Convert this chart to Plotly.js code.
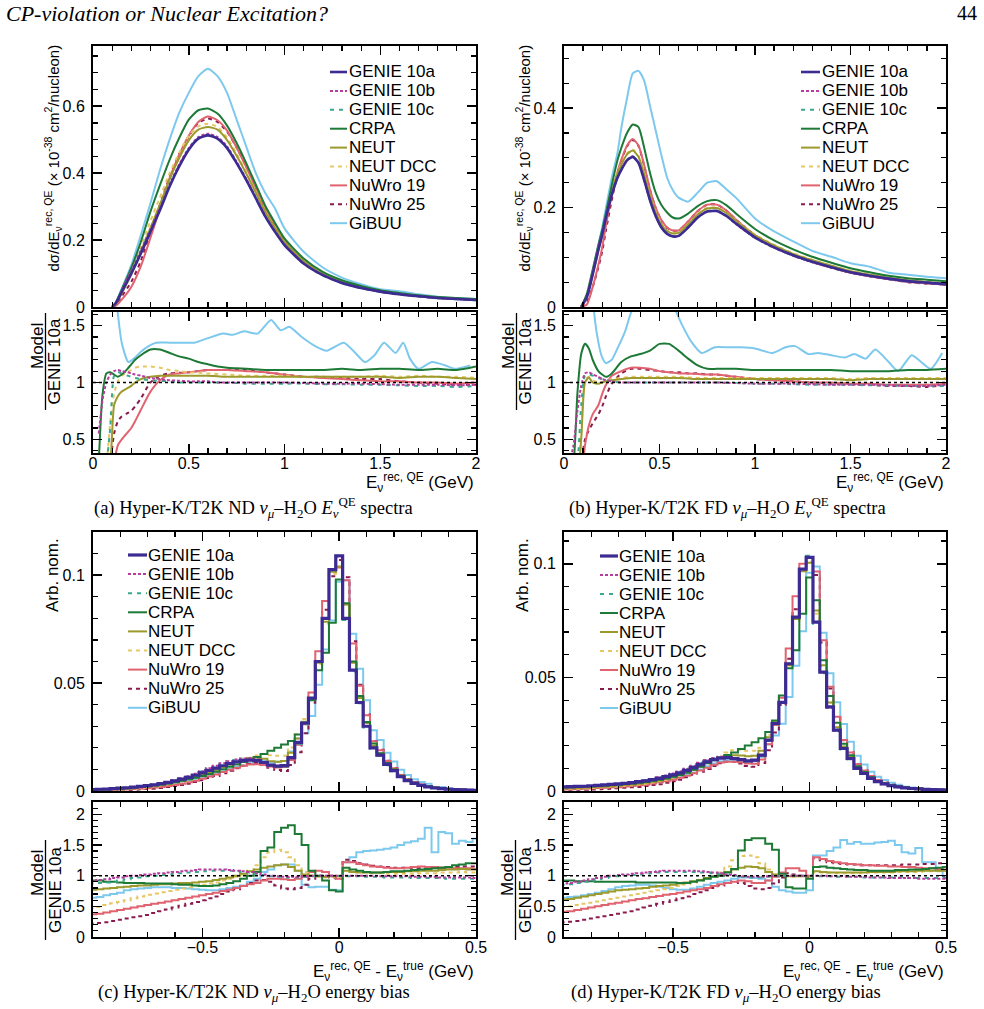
<!DOCTYPE html>
<html><head><meta charset="utf-8">
<script src="https://cdn.plot.ly/plotly-3.0.1.min.js"></script>
<style>html,body{margin:0;padding:0;background:#fff}#plot{width:984px;height:1009px}</style>
</head><body><div id="plot"></div>
<script>
// ---------------- DATA ----------------
const modelNames = ['GENIE 10a','GENIE 10b','GENIE 10c','CRPA','NEUT','NEUT DCC','NuWro 19','NuWro 25','GiBUU'];

// (a) ND spectra, main panel
const aX = [0.10,0.12,0.15,0.20,0.25,0.30,0.35,0.40,0.45,0.50,0.55,0.60,0.65,0.70,0.75,0.80,0.85,0.90,0.95,1.00,1.10,1.20,1.30,1.40,1.50,1.60,1.70,1.80,1.90,2.00];
const aG10a = [0,0.012,0.045,0.10,0.16,0.225,0.29,0.36,0.42,0.47,0.503,0.513,0.503,0.475,0.43,0.38,0.325,0.27,0.225,0.185,0.13,0.095,0.072,0.057,0.046,0.038,0.032,0.027,0.024,0.021];
const aG10b = [0,0.013,0.05,0.108,0.17,0.234,0.298,0.367,0.426,0.475,0.508,0.518,0.508,0.48,0.434,0.383,0.328,0.272,0.227,0.186,0.13,0.095,0.072,0.057,0.046,0.038,0.032,0.027,0.024,0.021];
const aG10c = [0,0.013,0.049,0.105,0.166,0.23,0.294,0.364,0.424,0.472,0.505,0.515,0.505,0.477,0.432,0.381,0.326,0.27,0.225,0.185,0.129,0.094,0.071,0.056,0.045,0.037,0.031,0.026,0.023,0.020];
const aCRPA = [0,0.014,0.052,0.117,0.195,0.285,0.365,0.44,0.505,0.56,0.588,0.593,0.578,0.542,0.49,0.43,0.366,0.302,0.252,0.205,0.145,0.105,0.08,0.063,0.05,0.042,0.035,0.030,0.027,0.024];
const aNEUT = [0,0.01,0.041,0.097,0.165,0.236,0.307,0.382,0.445,0.498,0.53,0.538,0.53,0.499,0.452,0.399,0.342,0.284,0.236,0.194,0.137,0.1,0.076,0.06,0.048,0.04,0.034,0.028,0.025,0.022];
const aNDCC = [0,0.012,0.048,0.111,0.182,0.257,0.328,0.4,0.461,0.512,0.54,0.548,0.538,0.506,0.458,0.403,0.345,0.286,0.238,0.196,0.137,0.1,0.076,0.06,0.049,0.04,0.034,0.028,0.025,0.022];
const aNW19 = [0,0.004,0.022,0.06,0.122,0.207,0.296,0.385,0.455,0.512,0.553,0.569,0.558,0.527,0.476,0.418,0.356,0.294,0.243,0.198,0.137,0.099,0.074,0.058,0.046,0.038,0.032,0.027,0.024,0.021];
const aNW25 = [0,0.007,0.032,0.075,0.138,0.225,0.307,0.389,0.457,0.51,0.55,0.563,0.553,0.524,0.477,0.422,0.359,0.294,0.243,0.198,0.137,0.1,0.075,0.059,0.047,0.038,0.032,0.027,0.024,0.021];
const aGiBUU = [0,0.014,0.055,0.125,0.215,0.31,0.41,0.50,0.58,0.64,0.69,0.712,0.69,0.64,0.56,0.48,0.40,0.34,0.295,0.235,0.165,0.118,0.088,0.068,0.053,0.047,0.038,0.031,0.026,0.024];

// ratio grid shared by (a) and (b)
const rX = [0.03,0.05,0.07,0.09,0.11,0.13,0.15,0.18,0.20,0.22,0.25,0.30,0.35,0.40,0.45,0.50,0.55,0.60,0.65,0.70,0.75,0.80,0.90,1.0,1.1,1.2,1.3,1.4,1.5,1.6,1.7,1.8,1.9,2.0];
const arG10b = [0.55,0.85,1.0,1.07,1.1,1.11,1.1,1.09,1.08,1.07,1.06,1.04,1.03,1.02,1.015,1.01,1.01,1.01,1.0,1.0,1.0,1.0,1.0,1.0,0.995,0.99,0.99,0.99,0.985,0.98,0.98,0.98,0.975,0.98];
const arG10c = [0.2,0.2,0.3,0.6,1.06,1.09,1.08,1.06,1.05,1.04,1.03,1.02,1.015,1.01,1.0,1.0,1.0,1.0,1.0,0.995,0.995,0.99,0.99,0.99,0.99,0.985,0.985,0.98,0.98,0.975,0.97,0.97,0.96,0.97];
const arCRPA = [0.3,0.9,1.08,1.09,1.07,1.05,1.07,1.12,1.16,1.2,1.24,1.29,1.29,1.26,1.23,1.21,1.18,1.16,1.14,1.13,1.125,1.12,1.11,1.11,1.11,1.11,1.12,1.11,1.12,1.12,1.11,1.12,1.11,1.14];
const arNEUT = [0.2,0.2,0.2,0.3,0.8,0.88,0.92,0.95,0.97,1.0,1.03,1.05,1.06,1.06,1.06,1.06,1.06,1.06,1.055,1.05,1.05,1.05,1.05,1.05,1.05,1.05,1.05,1.05,1.05,1.04,1.05,1.05,1.04,1.03];
const arNDCC = [0.2,0.2,0.3,0.65,0.9,1.01,1.06,1.09,1.11,1.13,1.14,1.14,1.13,1.11,1.10,1.09,1.085,1.08,1.075,1.07,1.065,1.06,1.06,1.06,1.05,1.05,1.05,1.05,1.06,1.05,1.06,1.05,1.05,1.04];
const arNW19 = [0.2,0.2,0.2,0.2,0.3,0.45,0.5,0.56,0.6,0.66,0.76,0.92,1.02,1.07,1.08,1.09,1.10,1.11,1.11,1.11,1.105,1.10,1.09,1.07,1.05,1.04,1.03,1.02,1.01,1.01,1.0,1.0,0.99,1.0];
const arNW25 = [0.2,0.2,0.2,0.3,0.55,0.66,0.7,0.73,0.75,0.79,0.86,1.0,1.06,1.08,1.085,1.09,1.10,1.11,1.11,1.11,1.11,1.11,1.09,1.07,1.05,1.05,1.04,1.03,1.03,1.01,1.0,0.99,0.98,0.98];
const arGiBUUx = [0.11,0.13,0.15,0.185,0.22,0.25,0.29,0.33,0.4,0.47,0.53,0.6,0.68,0.73,0.79,0.86,0.93,0.98,1.025,1.09,1.16,1.22,1.31,1.37,1.42,1.47,1.52,1.58,1.62,1.655,1.70,1.77,1.84,1.89,1.97];
const arGiBUU = [1.9,1.6,1.35,1.18,1.22,1.27,1.32,1.35,1.35,1.35,1.35,1.39,1.43,1.42,1.45,1.43,1.55,1.46,1.49,1.40,1.32,1.28,1.35,1.26,1.18,1.24,1.35,1.26,1.35,1.21,1.12,1.18,1.15,1.12,1.15];

// (b) FD spectra, main panel
const bX = [0.09,0.12,0.15,0.18,0.20,0.22,0.25,0.28,0.30,0.33,0.36,0.39,0.42,0.45,0.48,0.51,0.54,0.57,0.60,0.65,0.70,0.75,0.80,0.85,0.90,1.0,1.1,1.2,1.3,1.4,1.5,1.6,1.7,1.8,1.9,2.0];
const bG10a = [0,.02,.065,.115,.145,.18,.225,.26,.276,.295,.302,.29,.255,.215,.183,.16,.147,.142,.143,.16,.18,.192,.193,.183,.168,.14,.12,.104,.091,.08,.07,.063,.057,.052,.049,.046];
const bG10b = [0,.022,.07,.121,.149,.184,.227,.261,.277,.296,.303,.29,.255,.215,.183,.16,.147,.142,.143,.16,.18,.192,.193,.183,.167,.139,.119,.103,.09,.079,.069,.062,.056,.051,.048,.045];
const bG10c = [0,.021,.069,.119,.148,.183,.226,.26,.277,.296,.303,.291,.256,.216,.184,.161,.148,.143,.144,.161,.181,.193,.194,.184,.168,.139,.119,.103,.09,.079,.069,.062,.056,.051,.048,.045];
const bCRPA = [0,.027,.075,.125,.155,.19,.245,.295,.32,.35,.367,.362,.32,.27,.23,.205,.19,.18,.178,.188,.203,.213,.215,.205,.188,.157,.134,.116,.101,.089,.078,.070,.063,.058,.055,.052];
const bNEUT = [0,.021,.066,.114,.145,.182,.23,.268,.286,.307,.315,.302,.266,.224,.19,.166,.153,.148,.149,.166,.186,.198,.199,.189,.173,.144,.124,.107,.094,.083,.072,.065,.059,.054,.050,.047];
const bNDCC = [0,.021,.066,.115,.145,.182,.231,.27,.288,.309,.317,.304,.268,.226,.192,.168,.154,.149,.15,.167,.187,.2,.2,.19,.174,.146,.125,.108,.095,.083,.073,.066,.059,.054,.051,.048];
const bNW19 = [0,.005,.04,.085,.12,.165,.225,.272,.296,.325,.338,.325,.285,.237,.2,.175,.16,.154,.154,.172,.193,.206,.206,.194,.176,.144,.122,.105,.091,.08,.069,.062,.056,.051,.048,.045];
const bNW25 = [0,.01,.04,.08,.112,.155,.215,.268,.294,.323,.336,.324,.284,.236,.199,.174,.159,.154,.154,.172,.193,.206,.206,.194,.176,.144,.122,.105,.091,.079,.069,.062,.056,.05,.047,.045];
const bGiBUU = [0,.02,.07,.125,.16,.2,.26,.31,.36,.42,.47,.475,.455,.405,.355,.305,.26,.235,.22,.212,.23,.25,.253,.237,.22,.178,.152,.132,.113,.101,.088,.081,.069,.065,.061,.058];

const brG10b = [.3,.45,.75,.97,1.08,1.09,1.07,1.05,1.03,1.02,1.01,1.0,1.0,1.0,1.0,1.0,1.0,1.0,1.0,1.0,1.0,1.0,.995,.99,.99,.99,.985,.98,.98,.98,.975,.97,.97,.98];
const brG10c = [.2,.2,.3,.8,1.06,1.07,1.06,1.04,1.03,1.02,1.01,1.0,1.0,1.0,1.0,1.0,1.0,1.0,1.0,1.0,1.0,1.0,.995,.99,.99,.985,.98,.98,.98,.975,.975,.97,.97,.97];
const brCRPA = [.2,.3,.9,1.25,1.34,1.3,1.2,1.1,1.07,1.05,1.08,1.18,1.23,1.25,1.28,1.34,1.34,1.28,1.21,1.15,1.12,1.12,1.12,1.11,1.11,1.11,1.11,1.11,1.10,1.10,1.10,1.11,1.11,1.12];
const brNEUT = [.2,.2,.2,.5,1.0,1.045,1.0,.99,1.0,1.01,1.02,1.03,1.04,1.04,1.04,1.04,1.04,1.04,1.035,1.03,1.03,1.03,1.03,1.03,1.03,1.03,1.03,1.03,1.02,1.03,1.03,1.03,1.03,1.03];
const brNDCC = [.2,.2,.2,.55,1.02,1.05,1.02,1.0,1.0,1.01,1.03,1.04,1.05,1.05,1.05,1.05,1.05,1.05,1.045,1.04,1.04,1.04,1.04,1.04,1.04,1.04,1.04,1.04,1.03,1.04,1.04,1.04,1.04,1.04];
const brNW19 = [.2,.2,.2,.2,.45,.62,.72,.8,.9,.98,1.06,1.1,1.13,1.13,1.12,1.10,1.09,1.08,1.08,1.075,1.07,1.07,1.05,1.03,1.02,1.01,1.0,1.0,.99,.99,.98,.98,.98,.99];
const brNW25 = [.2,.2,.2,.3,.5,.58,.64,.72,.79,.88,.99,1.08,1.12,1.12,1.11,1.10,1.09,1.09,1.08,1.08,1.07,1.07,1.05,1.03,1.02,1.01,1.0,.99,.99,.98,.97,.97,.96,.98];
const brGiBUUx = [0.14,0.17,0.2,0.22,0.25,0.28,0.32,0.36,0.45,0.55,0.58,0.62,0.67,0.72,0.79,0.86,0.93,1.0,1.09,1.16,1.21,1.28,1.33,1.4,1.47,1.52,1.58,1.63,1.7,1.75,1.82,1.87,1.92,1.98];
const brGiBUU = [1.9,1.45,1.22,1.17,1.2,1.3,1.45,1.65,1.8,1.75,1.65,1.5,1.35,1.26,1.31,1.31,1.31,1.30,1.26,1.31,1.32,1.25,1.26,1.24,1.22,1.25,1.21,1.29,1.18,1.10,1.24,1.18,1.12,1.26];

// (c)/(d) energy-bias histograms: 57 bins of 0.025 GeV centred on -0.9 ... 0.5
const binStart = -0.9125, binWidth = 0.025, nBins = 57;
const cG10a = [.0007,.0008,.0009,.0011,.0013,.0015,.0018,.0021,.0025,.0029,.0034,.0040,.0047,.0055,.0063,.0073,.0084,.0095,.0106,.0117,.0127,.0135,.0141,.0143,.0141,.0132,.0120,.0115,.0118,.0155,.0225,.0315,.0430,.0600,.0800,.1026,.1090,.0800,.0560,.0410,.0300,.0200,.0166,.0123,.0094,.0066,.0048,.0035,.0026,.0019,.0014,.0011,.0008,.0006,.0005,.0004,.0003];
const cG10b = [.0007,.0007,.0008,.0011,.0013,.0015,.0018,.0021,.0026,.0030,.0035,.0042,.0050,.0059,.0068,.0080,.0092,.0105,.0117,.0129,.0138,.0146,.0151,.0152,.0147,.0135,.0120,.0114,.0116,.0152,.0221,.0312,.0430,.0600,.0800,.1026,.1085,.0800,.0560,.0410,.0300,.0200,.0164,.0122,.0093,.0065,.0048,.0034,.0026,.0019,.0014,.0011,.0008,.0006,.0005,.0004,.0003];
const cG10c = [.0006,.0007,.0008,.0010,.0012,.0014,.0017,.0020,.0025,.0029,.0034,.0041,.0048,.0057,.0066,.0077,.0090,.0103,.0114,.0126,.0137,.0144,.0149,.0150,.0145,.0133,.0119,.0113,.0114,.0150,.0218,.0309,.0426,.0600,.0800,.1026,.1090,.0792,.0554,.0406,.0294,.0196,.0163,.0119,.0091,.0064,.0047,.0034,.0025,.0018,.0013,.0011,.0008,.0006,.0005,.0004,.0003];
const cCRPA = [.0006,.0007,.0008,.0010,.0012,.0013,.0016,.0018,.0022,.0025,.0030,.0035,.0040,.0047,.0054,.0061,.0070,.0079,.0089,.0101,.0112,.0123,.0134,.0145,.0158,.0172,.0186,.0200,.0215,.0232,.0262,.0310,.0420,.0560,.0640,.0780,.0980,.0870,.0600,.0440,.0320,.0220,.0175,.0130,.0100,.0071,.0052,.0038,.0028,.0021,.0016,.0012,.0009,.0007,.0006,.0005,.0004];
const cNEUT = [.0005,.0006,.0007,.0009,.0011,.0012,.0015,.0018,.0021,.0025,.0029,.0034,.0041,.0048,.0055,.0065,.0076,.0086,.0099,.0111,.0123,.0135,.0145,.0153,.0155,.0149,.0138,.0135,.0139,.0177,.0243,.0321,.0430,.0594,.0784,.1016,.1040,.0864,.0594,.0431,.0315,.0210,.0174,.0130,.0100,.0070,.0051,.0037,.0028,.0021,.0015,.0012,.0009,.0007,.0006,.0004,.0003];
const cNDCC = [.0003,.0004,.0005,.0006,.0007,.0009,.0011,.0014,.0017,.0021,.0025,.0030,.0036,.0043,.0051,.0061,.0071,.0083,.0094,.0108,.0121,.0132,.0144,.0154,.0165,.0172,.0166,.0163,.0163,.0202,.0263,.0334,.0430,.0588,.0776,.1005,.1040,.0864,.0599,.0435,.0315,.0208,.0173,.0127,.0097,.0068,.0049,.0036,.0027,.0020,.0015,.0012,.0008,.0006,.0005,.0004,.0003];
const cNW19 = [.0003,.0003,.0004,.0005,.0006,.0007,.0009,.0011,.0013,.0016,.0019,.0023,.0028,.0034,.0040,.0048,.0057,.0067,.0076,.0088,.0098,.0108,.0117,.0123,.0124,.0121,.0114,.0109,.0111,.0144,.0214,.0309,.0456,.0648,.0880,.1026,.1036,.0976,.0683,.0488,.0351,.0230,.0189,.0139,.0105,.0074,.0054,.0040,.0030,.0022,.0016,.0012,.0009,.0007,.0006,.0004,.0003];
const cNW25 = [.0002,.0002,.0002,.0003,.0004,.0005,.0006,.0007,.0009,.0011,.0014,.0018,.0023,.0028,.0034,.0042,.0050,.0060,.0070,.0082,.0094,.0105,.0117,.0126,.0130,.0123,.0108,.0097,.0093,.0121,.0180,.0268,.0409,.0600,.0840,.0995,.1070,.0990,.0694,.0492,.0354,.0232,.0191,.0140,.0106,.0075,.0054,.0039,.0029,.0021,.0016,.0012,.0009,.0007,.0006,.0005,.0003];
const cGiBUU = [.0004,.0005,.0006,.0008,.0009,.0011,.0014,.0017,.0020,.0023,.0028,.0032,.0038,.0044,.0050,.0057,.0065,.0072,.0081,.0091,.0102,.0111,.0118,.0129,.0134,.0140,.0132,.0135,.0139,.0183,.0243,.0268,.0348,.0492,.0656,.0790,.0970,.0976,.0728,.0566,.0420,.0282,.0236,.0177,.0137,.0099,.0074,.0055,.0042,.0034,.0019,.0019,.0014,.0009,.0008,.0006,.0005];

const crG10b = [.92,.93,.94,.96,.97,.99,1.0,1.01,1.02,1.03,1.04,1.05,1.06,1.07,1.08,1.09,1.10,1.10,1.10,1.10,1.09,1.08,1.07,1.06,1.04,1.02,1.0,.99,.98,.98,.98,.99,1.0,1.0,1.0,1.0,1.0,1.0,1.0,1.0,1.0,1.0,.99,.99,.99,.99,.99,.98,.98,.98,.98,.97,.97,.97,.97,.97,.96];
const crG10c = [.87,.88,.89,.90,.92,.94,.96,.97,.99,1.0,1.01,1.02,1.03,1.04,1.05,1.06,1.07,1.08,1.08,1.08,1.08,1.07,1.06,1.05,1.03,1.01,.99,.98,.97,.97,.97,.98,.99,1.0,1.0,1.0,1.0,.99,.99,.99,.98,.98,.98,.97,.97,.97,.97,.96,.96,.96,.96,.96,.95,.95,.95,.95,.95];
const crCRPA = [.92,.92,.90,.90,.89,.88,.88,.88,.87,.87,.87,.87,.86,.85,.85,.84,.83,.83,.84,.86,.88,.91,.95,1.0,1.06,1.40,1.46,1.71,1.78,1.82,1.68,1.50,1.08,1.0,.92,.76,.74,1.13,1.10,1.08,1.06,1.05,1.05,1.06,1.07,1.07,1.08,1.09,1.10,1.11,1.12,1.13,1.14,1.17,1.18,1.2,1.2];
const crNEUT = [.77,.78,.79,.80,.81,.82,.83,.84,.84,.85,.86,.86,.87,.88,.88,.89,.90,.91,.93,.95,.97,1.0,1.03,1.07,1.10,1.13,1.15,1.17,1.18,1.14,1.08,1.02,1.0,.99,.98,.99,.99,1.08,1.06,1.05,1.05,1.05,1.05,1.06,1.06,1.06,1.07,1.07,1.08,1.08,1.08,1.09,1.10,1.10,1.11,1.10,1.10];
const crNDCC = [.47,.49,.52,.55,.57,.60,.63,.66,.69,.71,.73,.75,.77,.79,.81,.83,.85,.87,.89,.92,.95,.98,1.02,1.08,1.17,1.30,1.38,1.42,1.38,1.30,1.17,1.06,1.0,.98,.97,.98,.98,1.08,1.07,1.06,1.05,1.04,1.04,1.03,1.03,1.03,1.03,1.03,1.04,1.04,1.04,1.05,1.05,1.05,1.06,1.05,1.05];
const crNW19 = [.37,.38,.40,.42,.44,.46,.48,.50,.52,.54,.56,.58,.60,.62,.64,.66,.68,.70,.72,.75,.77,.80,.83,.86,.88,.92,.95,.95,.94,.93,.95,.98,1.06,1.08,1.06,1.0,.95,1.22,1.22,1.19,1.17,1.15,1.14,1.13,1.12,1.12,1.13,1.14,1.15,1.14,1.14,1.13,1.13,1.12,1.12,1.12,1.11];
const crNW25 = [.22,.23,.24,.26,.28,.30,.32,.34,.36,.39,.42,.45,.48,.51,.54,.57,.60,.63,.66,.70,.74,.78,.83,.88,.92,.93,.90,.84,.79,.78,.80,.85,.95,1.0,1.0,.97,.95,1.26,1.24,1.20,1.18,1.16,1.15,1.14,1.13,1.13,1.13,1.12,1.12,1.12,1.13,1.13,1.14,1.14,1.15,1.15,1.15];
const crGiBUU = [.64,.65,.68,.70,.72,.76,.78,.79,.80,.81,.81,.81,.80,.80,.79,.78,.77,.76,.76,.78,.80,.82,.84,.90,.95,1.06,1.10,1.17,1.18,1.18,1.08,.85,.81,.82,.82,.77,.76,1.22,1.30,1.38,1.40,1.41,1.42,1.44,1.46,1.50,1.54,1.56,1.60,1.78,1.38,1.71,1.69,1.52,1.57,1.55,1.60];

const dG10a = [.0018,.0019,.0020,.0021,.0023,.0025,.0027,.0029,.0031,.0034,.0037,.0041,.0045,.0050,.0056,.0063,.0071,.0080,.0091,.0103,.0116,.0128,.0138,.0145,.0147,.0143,.0138,.0133,.0136,.0158,.0224,.0297,.0390,.0560,.0765,.0977,.1028,.0743,.0523,.0370,.0268,.0187,.0143,.0100,.0077,.0056,.0041,.0031,.0023,.0018,.0014,.0011,.0009,.0007,.0006,.0005,.0004];
const dG10b = [.0016,.0017,.0018,.0019,.0022,.0024,.0026,.0029,.0031,.0035,.0038,.0043,.0047,.0053,.0060,.0068,.0077,.0086,.0098,.0111,.0124,.0136,.0145,.0151,.0150,.0144,.0137,.0130,.0133,.0155,.0222,.0297,.0390,.0560,.0765,.0977,.1028,.0743,.0523,.0366,.0265,.0185,.0140,.0098,.0075,.0054,.0040,.0030,.0022,.0017,.0013,.0011,.0009,.0007,.0006,.0005,.0004];
const dG10c = [.0015,.0016,.0018,.0019,.0021,.0024,.0026,.0028,.0031,.0034,.0037,.0042,.0046,.0052,.0059,.0067,.0075,.0085,.0096,.0109,.0122,.0134,.0144,.0149,.0148,.0143,.0135,.0129,.0132,.0153,.0220,.0294,.0390,.0560,.0765,.0977,.1035,.0736,.0518,.0366,.0263,.0183,.0140,.0098,.0075,.0054,.0040,.0030,.0022,.0017,.0013,.0011,.0009,.0007,.0006,.0005,.0004];
const dCRPA = [.0017,.0017,.0018,.0019,.0021,.0023,.0024,.0026,.0028,.0031,.0033,.0036,.0040,.0045,.0050,.0056,.0063,.0070,.0080,.0093,.0107,.0122,.0135,.0147,.0158,.0170,.0185,.0200,.0215,.0232,.0260,.0310,.0420,.0540,.0620,.0780,.0940,.0840,.0575,.0418,.0300,.0208,.0157,.0109,.0084,.0060,.0044,.0033,.0025,.0020,.0015,.0012,.0010,.0008,.0007,.0006,.0005];
const dNEUT = [.0011,.0012,.0013,.0014,.0016,.0018,.0019,.0021,.0024,.0026,.0029,.0032,.0036,.0041,.0046,.0053,.0060,.0070,.0081,.0094,.0108,.0123,.0137,.0148,.0156,.0157,.0156,.0153,.0155,.0177,.0237,.0303,.0390,.0554,.0757,.0967,.1005,.0795,.0554,.0389,.0281,.0196,.0150,.0105,.0081,.0059,.0043,.0033,.0024,.0019,.0015,.0012,.0010,.0008,.0006,.0005,.0004];
const dNDCC = [.0009,.0010,.0010,.0011,.0013,.0015,.0016,.0018,.0020,.0022,.0025,.0029,.0032,.0037,.0043,.0049,.0057,.0066,.0078,.0092,.0107,.0122,.0137,.0152,.0169,.0179,.0182,.0177,.0177,.0190,.0246,.0303,.0390,.0554,.0750,.0967,.1010,.0780,.0549,.0389,.0279,.0194,.0149,.0104,.0081,.0059,.0043,.0033,.0024,.0019,.0015,.0012,.0010,.0007,.0006,.0005,.0004];
const dNW19 = [.0007,.0008,.0009,.0010,.0011,.0013,.0014,.0016,.0017,.0020,.0022,.0025,.0028,.0033,.0038,.0043,.0050,.0058,.0067,.0078,.0090,.0102,.0115,.0125,.0129,.0129,.0127,.0121,.0120,.0139,.0206,.0291,.0410,.0627,.0857,.1000,.1028,.0966,.0664,.0459,.0327,.0224,.0170,.0118,.0090,.0066,.0048,.0036,.0026,.0021,.0016,.0013,.0010,.0008,.0007,.0006,.0004];
const dNW25 = [.0004,.0005,.0005,.0006,.0007,.0008,.0009,.0010,.0012,.0014,.0016,.0018,.0022,.0026,.0030,.0036,.0043,.0050,.0060,.0072,.0085,.0097,.0110,.0122,.0129,.0129,.0121,.0110,.0107,.0123,.0179,.0258,.0378,.0582,.0800,.0977,.1007,.0951,.0654,.0451,.0322,.0223,.0169,.0118,.0090,.0066,.0048,.0036,.0027,.0021,.0017,.0013,.0011,.0008,.0007,.0006,.0005];
const dGiBUU = [.0011,.0012,.0013,.0014,.0016,.0018,.0020,.0023,.0025,.0028,.0031,.0035,.0038,.0042,.0046,.0050,.0055,.0062,.0070,.0081,.0095,.0109,.0121,.0131,.0135,.0136,.0134,.0129,.0131,.0150,.0206,.0244,.0296,.0414,.0551,.0703,.0961,.0988,.0696,.0518,.0391,.0295,.0217,.0155,.0117,.0085,.0063,.0048,.0036,.0027,.0019,.0015,.0013,.0009,.0007,.0005,.0004];

const drG10b = [.87,.88,.90,.92,.94,.96,.98,1.0,1.01,1.02,1.03,1.04,1.05,1.06,1.07,1.08,1.08,1.08,1.08,1.08,1.07,1.06,1.05,1.04,1.02,1.01,.99,.98,.98,.98,.99,1.0,1.0,1.0,1.0,1.0,1.0,1.0,1.0,.99,.99,.99,.98,.98,.98,.97,.97,.97,.96,.96,.96,.96,.95,.95,.95,.95,.95];
const drG10c = [.85,.86,.88,.90,.92,.94,.96,.98,.99,1.0,1.01,1.02,1.03,1.04,1.05,1.06,1.06,1.06,1.06,1.06,1.05,1.05,1.04,1.03,1.01,1.0,.98,.97,.97,.97,.98,.99,1.0,1.0,1.0,1.0,1.0,.99,.99,.99,.98,.98,.98,.98,.97,.97,.97,.97,.97,.97,.96,.96,.96,.96,.96,.96,.96];
const drCRPA = [.92,.92,.91,.91,.91,.90,.90,.90,.90,.90,.90,.89,.89,.89,.89,.89,.89,.88,.88,.90,.92,.95,.98,1.0,1.05,1.11,1.41,1.58,1.61,1.61,1.52,1.42,1.03,.81,.79,.79,.95,1.14,1.15,1.13,1.12,1.11,1.10,1.09,1.09,1.08,1.08,1.08,1.08,1.09,1.09,1.10,1.10,1.11,1.12,1.13,1.14];
const drNEUT = [.61,.62,.64,.66,.68,.70,.72,.74,.76,.77,.78,.79,.80,.82,.83,.84,.85,.87,.89,.91,.93,.96,.99,1.02,1.06,1.10,1.13,1.15,1.14,1.12,1.06,1.02,1.0,.99,.99,.99,.99,1.07,1.06,1.05,1.05,1.05,1.05,1.05,1.05,1.06,1.06,1.06,1.06,1.07,1.07,1.07,1.08,1.08,1.08,1.08,1.08];
const drNDCC = [.49,.50,.52,.54,.56,.58,.60,.62,.64,.66,.68,.70,.72,.74,.76,.78,.80,.83,.86,.89,.92,.95,.99,1.05,1.15,1.25,1.32,1.33,1.30,1.20,1.10,1.02,1.0,.99,.98,.99,.99,1.05,1.05,1.05,1.04,1.04,1.04,1.04,1.05,1.05,1.05,1.05,1.05,1.06,1.06,1.06,1.06,1.07,1.07,1.07,1.07];
const drNW19 = [.41,.42,.44,.46,.48,.50,.52,.54,.56,.58,.60,.62,.63,.65,.67,.69,.70,.72,.74,.76,.78,.80,.83,.86,.88,.90,.92,.91,.88,.88,.92,.98,1.05,1.12,1.12,1.08,1.0,1.30,1.27,1.24,1.22,1.20,1.19,1.18,1.17,1.17,1.16,1.16,1.15,1.15,1.14,1.14,1.13,1.12,1.12,1.11,1.10];
const drNW25 = [.24,.25,.26,.28,.30,.32,.34,.36,.38,.40,.42,.45,.48,.51,.54,.57,.60,.63,.66,.70,.73,.76,.80,.84,.88,.90,.88,.83,.79,.78,.80,.87,.97,1.04,1.02,1.0,.98,1.28,1.25,1.22,1.20,1.19,1.18,1.18,1.17,1.17,1.17,1.17,1.17,1.17,1.18,1.18,1.18,1.19,1.19,1.20,1.20];
const drGiBUU = [.64,.65,.66,.68,.70,.72,.75,.78,.81,.83,.84,.85,.85,.84,.82,.80,.78,.77,.77,.79,.82,.85,.88,.90,.92,.95,.97,.97,.96,.95,.92,.82,.76,.74,.72,.72,.76,1.33,1.33,1.40,1.46,1.58,1.52,1.55,1.52,1.52,1.54,1.55,1.57,1.50,1.38,1.36,1.45,1.22,1.22,1.08,.99];

// ---------------- STYLE ----------------
const W = 984, H = 1009;
const px = x => x / W, py = y => 1 - y / H;
const FONT = 'Liberation Sans, Arial, Helvetica, sans-serif';
const SERIF = 'Liberation Serif, Times New Roman, serif';
const colors = ['#3b2b93','#b83c9f','#38a88e','#1d7a36','#9c9a2c','#e6c766','#e0636f','#8a1b4d','#7dc9ee'];
const dashes = ['solid','3px,2px','4px,5px','solid','solid','4px,4px','solid','4px,4px','solid'];
const wAB = [2.6,2,2,2,2,2,2,2,2];
const wCD = [3.2,2,2,2,2,2,2,2,2];

const traces = [];
function smooth(x, y, i, xa, ya, w) {
  traces.push({type:'scatter', mode:'lines', x, y, xaxis:xa, yaxis:ya, showlegend:false, hoverinfo:'skip',
    line:{color:colors[i], dash:dashes[i], width:w[i], shape:'spline', smoothing:0.6}});
}
const edges = Array.from({length:nBins+1}, (_, k) => +(binStart + k*binWidth).toFixed(4));
function hist(vals, i, xa, ya, w) {
  traces.push({type:'scatter', mode:'lines', x:edges, y:vals.concat([vals[vals.length-1]]), xaxis:xa, yaxis:ya,
    showlegend:false, hoverinfo:'skip', line:{color:colors[i], dash:dashes[i], width:w[i], shape:'hv'}});
}

const aMain = [aG10a,aG10b,aG10c,aCRPA,aNEUT,aNDCC,aNW19,aNW25,aGiBUU];
const bMain = [bG10a,bG10b,bG10c,bCRPA,bNEUT,bNDCC,bNW19,bNW25,bGiBUU];
const aRat = [null,arG10b,arG10c,arCRPA,arNEUT,arNDCC,arNW19,arNW25];
const bRat = [null,brG10b,brG10c,brCRPA,brNEUT,brNDCC,brNW19,brNW25];
const cMain = [cG10a,cG10b,cG10c,cCRPA,cNEUT,cNDCC,cNW19,cNW25,cGiBUU];
const dMain = [dG10a,dG10b,dG10c,dCRPA,dNEUT,dNDCC,dNW19,dNW25,dGiBUU];
const cRat = [null,crG10b,crG10c,crCRPA,crNEUT,crNDCC,crNW19,crNW25,crGiBUU];
const dRat = [null,drG10b,drG10c,drCRPA,drNEUT,drNDCC,drNW19,drNW25,drGiBUU];

for (let i = 8; i >= 0; i--) {
  smooth(aX, aMain[i], i, 'x', 'y', wAB);
  smooth(bX, bMain[i], i, 'x3', 'y3', wAB);
  hist(cMain[i], i, 'x5', 'y5', wCD);
  hist(dMain[i], i, 'x7', 'y7', wCD);
}
smooth(arGiBUUx, arGiBUU, 8, 'x2', 'y2', wAB);
smooth(brGiBUUx, brGiBUU, 8, 'x4', 'y4', wAB);
hist(crGiBUU, 8, 'x6', 'y6', wCD);
hist(drGiBUU, 8, 'x8', 'y8', wCD);
for (let i = 7; i >= 1; i--) {
  smooth(rX, aRat[i], i, 'x2', 'y2', wAB);
  smooth(rX, bRat[i], i, 'x4', 'y4', wAB);
  hist(cRat[i], i, 'x6', 'y6', wCD);
  hist(dRat[i], i, 'x8', 'y8', wCD);
}

// ---------------- AXES ----------------
function ax(domain, range, dtick, minor, labels, anchor, isX) {
  return {domain, range, dtick, tick0:0, anchor, showline:true, linecolor:'black', linewidth:2, mirror:'allticks',
    ticks:'inside', ticklen:9, tickwidth:1.5, tickcolor:'black', showgrid:false, zeroline:false,
    showticklabels:labels, ticklabelstandoff: isX ? -5 : 3, tickfont:{family:FONT, size:16, color:'black'}, fixedrange:true,
    minor:{dtick:minor, tick0:0, ticks:'inside', ticklen:5, tickwidth:1.2, tickcolor:'black', showgrid:false}};
}
const xL = [px(93), px(476)], xR = [px(564), px(946)];
const yTopMain = [py(307), py(46)], yTopRat = [py(453), py(312)];
const yBotMain = [py(791), py(532)], yBotRat = [py(937), py(802)];

const layout = {
  width:W, height:H, margin:{l:0,r:0,t:0,b:0}, paper_bgcolor:'white', plot_bgcolor:'white', showlegend:false,
  xaxis:  ax(xL, [0,2], 0.5, 0.1, false, 'y', true),
  yaxis:  ax(yTopMain, [0,0.78], 0.2, 0.05, true, 'x'),
  xaxis2: ax(xL, [0,2], 0.5, 0.1, true, 'y2', true),
  yaxis2: ax(yTopRat, [0.38,1.62], 0.5, 0.1, true, 'x2'),
  xaxis3: ax(xR, [0,2], 0.5, 0.1, false, 'y3', true),
  yaxis3: ax(yTopMain, [0,0.525], 0.2, 0.05, true, 'x3'),
  xaxis4: ax(xR, [0,2], 0.5, 0.1, true, 'y4', true),
  yaxis4: ax(yTopRat, [0.38,1.62], 0.5, 0.1, true, 'x4'),
  xaxis5: ax(xL, [-0.9,0.5], 0.5, 0.1, false, 'y5', true),
  yaxis5: ax(yBotMain, [0,0.12], 0.05, 0.01, true, 'x5'),
  xaxis6: ax(xL, [-0.9,0.5], 0.5, 0.1, true, 'y6', true),
  yaxis6: ax(yBotRat, [0,2.2], 0.5, 0.1, true, 'x6'),
  xaxis7: ax(xR, [-0.9,0.5], 0.5, 0.1, false, 'y7', true),
  yaxis7: ax(yBotMain, [0,0.114], 0.05, 0.01, true, 'x7'),
  xaxis8: ax(xR, [-0.9,0.5], 0.5, 0.1, true, 'y8', true),
  yaxis8: ax(yBotRat, [0,2.2], 0.5, 0.1, true, 'x8'),
  shapes: [], annotations: []
};

// unity lines in ratio panels
[['x2','y2',0,2],['x4','y4',0,2],['x6','y6',-0.9,0.5],['x8','y8',-0.9,0.5]].forEach(([xa,ya,a,b]) => {
  layout.shapes.push({type:'line', xref:xa, yref:ya, x0:a, x1:b, y0:1, y1:1, line:{color:'black', width:1.5, dash:'dot'}});
});

function ann(text, x, y, o) {
  layout.annotations.push(Object.assign({text, x:px(x), y:py(y), xref:'paper', yref:'paper', showarrow:false,
    xanchor:'center', yanchor:'middle', font:{family:FONT, size:17, color:'black'}}, o || {}));
}

// legends
function legend(x0, x1, tx, y0, dy, w) {
  modelNames.forEach((n, i) => {
    const y = y0 + i * dy;
    layout.shapes.push({type:'line', xref:'paper', yref:'paper', x0:px(x0), x1:px(x1), y0:py(y), y1:py(y),
      line:{color:colors[i], width:w[i], dash:dashes[i]}});
    ann(n, tx, y, {xanchor:'left'});
  });
}
legend(330, 347, 347, 72, 18.9, wAB);
legend(801, 820, 820, 72, 18.9, wAB);
legend(128, 147, 146, 555, 19.1, wCD);
legend(600, 618, 617, 556, 19.0, wCD);

// y titles
const yMainTitle = 'dσ/dE<sub>ν</sub><sup>rec, QE</sup> (× 10<sup>-38</sup> cm<sup>2</sup>/nucleon)';
ann(yMainTitle, 53, 43, {textangle:-90, yanchor:'top', font:{family:FONT, size:15, color:'black'}});
ann(yMainTitle, 524, 43, {textangle:-90, yanchor:'top', font:{family:FONT, size:15, color:'black'}});
ann('Arb. nom.', 52, 536, {textangle:-90, yanchor:'top', font:{family:FONT, size:17, color:'black'}});
ann('Arb. nom.', 522, 536, {textangle:-90, yanchor:'top', font:{family:FONT, size:17, color:'black'}});
function fracTitle(xm, xl, xg, ytop, ylen, ymodel) {
  ann('Model', xm, ymodel, {textangle:-90, font:{family:FONT, size:17, color:'black'}});
  ann('GENIE 10a', xg, ytop + ylen/2, {textangle:-90, font:{family:FONT, size:17, color:'black'}});
  layout.shapes.push({type:'line', xref:'paper', yref:'paper', x0:px(xl), x1:px(xl), y0:py(ytop), y1:py(ytop+ylen), line:{color:'black', width:1.3}});
}
fracTitle(37, 45.5, 54, 313, 97, 346);
fracTitle(508, 516.5, 525, 313, 97, 346);
fracTitle(37, 45.5, 55, 840, 100, 873);
fracTitle(507, 515.5, 525, 840, 100, 873);

// x titles
const xTitleA = 'E<sub>ν</sub><sup>rec, QE</sup> (GeV)';
const xTitleC = 'E<sub>ν</sub><sup>rec, QE</sup> - E<sub>ν</sub><sup>true</sup> (GeV)';
ann(xTitleA, 476, 483, {xanchor:'right'});
ann(xTitleA, 946, 483, {xanchor:'right'});
ann(xTitleC, 476, 971, {xanchor:'right'});
ann(xTitleC, 946, 971, {xanchor:'right'});

// captions
const cap = (l, det, what) => `(${l}) Hyper-K/T2K ${det} <i>ν</i><sub><i>μ</i></sub>–H<sub>2</sub>O ${what}`;
const sf = {family:SERIF, size:18.5, color:'black'};
ann(cap('a','ND','<i>E</i><sub><i>ν</i></sub><sup>QE</sup> spectra'), 253, 507, {font:sf});
ann(cap('b','FD','<i>E</i><sub><i>ν</i></sub><sup>QE</sup> spectra'), 727, 507, {font:sf});
ann(cap('c','ND','energy bias'), 254, 993, {font:sf});
ann(cap('d','FD','energy bias'), 726, 993, {font:sf});

// page header
ann('<i>CP-violation or Nuclear Excitation?</i>', 4, 13, {xanchor:'left', font:{family:SERIF, size:22, color:'black'}});
ann('44', 979, 13, {xanchor:'right', font:{family:SERIF, size:20, color:'black'}});

Plotly.newPlot('plot', traces, layout, {staticPlot:true, displayModeBar:false});
</script></body></html>
